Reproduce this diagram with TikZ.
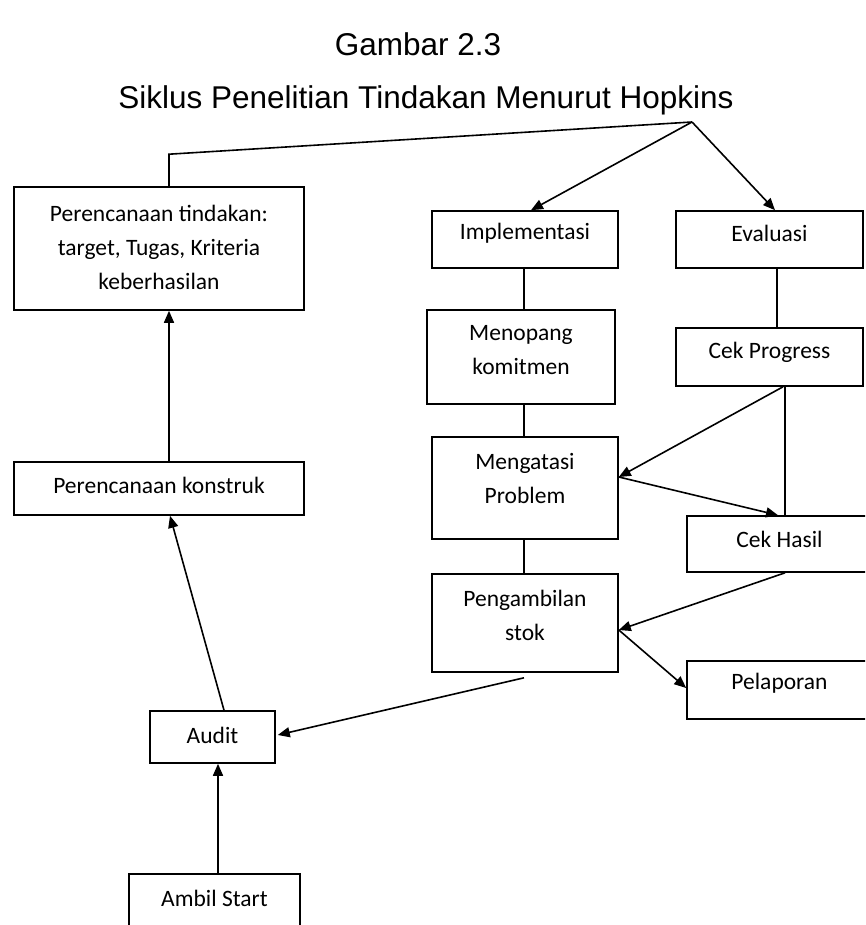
\documentclass[tikz,border=0pt]{standalone}
\usepackage{fontspec}
\setmainfont{Liberation Sans}
\newfontfamily\boxfont{Carlito}
\usetikzlibrary{arrows.meta,calc}
\begin{document}
\begin{tikzpicture}[x=1pt,y=-1pt,
  box/.style={draw, line width=1.6pt, inner sep=0pt},
  lbl/.style={font=\boxfont\fontsize{23.5}{34}\selectfont, align=center, inner sep=0pt},
  ttl/.style={font=\fontsize{31.5}{36}\selectfont, anchor=base, inner sep=0pt},
  ln/.style={line width=1.6pt},
  arr/.style={line width=1.6pt, -{Triangle[length=12pt,width=10pt]}}]
\clip (0,0) rectangle (865,925);
\fill[white] (0,0) rectangle (865,925);
% titles
\node[ttl] (t1) at (418,56) {Gambar 2.3};
\node[ttl] (t2) at (426,109) {Siklus Penelitian Tindakan Menurut Hopkins};
% boxes
\node[box, minimum width=290pt, minimum height=123pt,
  label={[lbl,yshift=1.5pt]center:{Perencanaan tindakan:\\target, Tugas, Kriteria\\keberhasilan}}] (pt) at (159,248.5) {};
\node[box, minimum width=186pt, minimum height=57pt,
  label={[lbl,yshift=6pt]center:Implementasi}] (impl) at (525,239.5) {};
\node[box, minimum width=187pt, minimum height=57pt,
  label={[lbl,yshift=6pt]center:Evaluasi}] (eval) at (769.5,239.5) {};
\node[box, minimum width=188pt, minimum height=94pt,
  label={[lbl,yshift=7pt]center:{Menopang\\komitmen}}] (meno) at (521,357) {};
\node[box, minimum width=187pt, minimum height=58pt,
  label={[lbl,yshift=5pt]center:Cek Progress}] (cekp) at (769.5,357) {};
\node[box, minimum width=186pt, minimum height=102pt,
  label={[lbl,yshift=10pt]center:{Mengatasi\\Problem}}] (meng) at (525,488) {};
\node[box, minimum width=193pt, minimum height=56pt,
  label={[lbl,xshift=-4pt,yshift=5pt]center:Cek Hasil}] (cekh) at (783.5,544) {};
\node[box, minimum width=186pt, minimum height=98pt,
  label={[lbl,yshift=8pt]center:{Pengambilan\\stok}}] (peng) at (525,623) {};
\node[box, minimum width=193pt, minimum height=58pt,
  label={[lbl,xshift=-4pt,yshift=7pt]center:Pelaporan}] (pel) at (783.5,690) {};
\node[box, minimum width=290pt, minimum height=53pt,
  label={[lbl,yshift=3.5pt]center:Perencanaan konstruk}] (kon) at (159,488.5) {};
\node[box, minimum width=125pt, minimum height=52pt,
  label={[lbl,yshift=2pt]center:Audit}] (audit) at (212.5,737) {};
\node[box, minimum width=171pt, minimum height=66pt,
  label={[lbl,yshift=9pt]center:Ambil Start}] (ambil) at (214.5,907) {};
% connectors
\coordinate (apex) at (692,122);
\draw[ln] ($(pt.north)+(10,0)$) -- ($(pt.north)+(10,-32)$) -- (apex);
\draw[arr] (apex) -- ($(impl.north)+(6,0)$);
\draw[arr] (apex) -- ($(eval.north)+(5.5,0)$);
\draw[ln] ($(impl.south)+(-1,0)$) -- ($(meno.north)+(3,0)$);
\draw[ln] ($(eval.south)+(7.5,0)$) -- ($(cekp.north)+(7.5,0)$);
\draw[ln] ($(meno.south)+(3,0)$) -- ($(meng.north)+(-1,0)$);
\draw[ln] ($(meng.south)+(-1,0)$) -- ($(peng.north)+(-1,0)$);
\draw[ln] ($(cekp.south)+(15.5,0)$) -- ($(cekh.north)+(1.5,0)$);
\draw[arr] ($(cekp.south)+(13.5,0)$) -- ($(meng.east)+(0,-11)$);
\draw[arr] ($(meng.east)+(0,-11)$) -- ($(cekh.north)+(-5.5,0)$);
\draw[arr] ($(cekh.south)+(1.5,0)$) -- ($(peng.east)+(0,7)$);
\draw[arr] ($(peng.east)+(0,7)$) -- ($(pel.west)+(0,-2)$);
\draw[arr] ($(peng.south)+(-1,5)$) -- ($(audit.east)+(2,-2)$);
\draw[arr] ($(audit.north)+(11.5,0)$) -- ($(kon.south)+(11,0)$);
\draw[arr] ($(kon.north)+(10,0)$) -- ($(pt.south)+(10,0)$);
\draw[arr] ($(ambil.north)+(3.5,0)$) -- ($(audit.south)+(5.5,0)$);
\end{tikzpicture}
\end{document}
